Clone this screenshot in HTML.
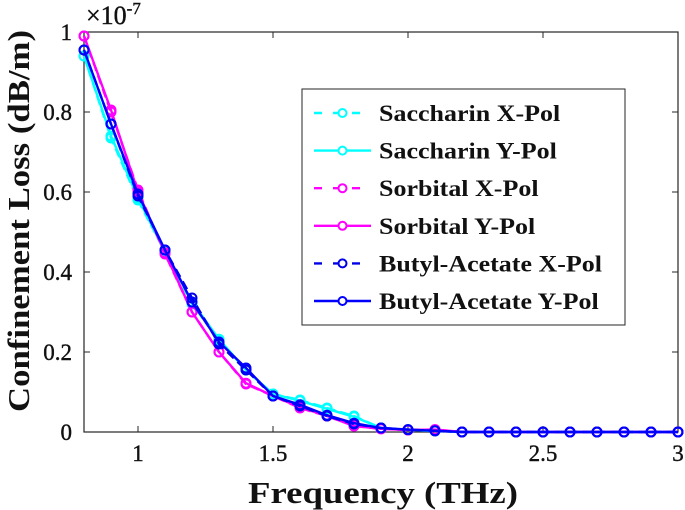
<!DOCTYPE html>
<html><head><meta charset="utf-8"><style>
body{margin:0;background:#fff}
svg{display:block;font-family:"Liberation Serif",serif}
</style></head><body>
<svg id="chart" width="685" height="510" viewBox="0 0 685 510">
<rect x="0" y="0" width="685" height="510" fill="#fff"/>
<g id="plot"></g>
</svg>
<script>
const freq=[0.8,0.9,1.0,1.1,1.2,1.3,1.4,1.5,1.6,1.7,1.8,1.9,2.0,2.1,2.2,2.3,2.4,2.5,2.6,2.7,2.8,2.9,3.0];
const sacX=[0.94,0.735,0.58,0.45,0.32,0.23,0.155,0.095,0.08,0.06,0.04,0.01,0.005,0.003,0,0,0,0,0,0,0,0,0];
const sacY=[0.94,0.74,0.585,0.45,0.325,0.232,0.155,0.095,0.078,0.058,0.038,0.01,0.005,0.003,0,0,0,0,0,0,0,0,0];
const sorX=[0.99,0.80,0.605,0.445,0.30,0.20,0.12,0.09,0.06,0.04,0.015,0.008,0.005,0.006,0,0,0,0,0,0,0,0,0];
const sorY=[0.99,0.805,0.60,0.448,0.30,0.20,0.122,0.09,0.062,0.04,0.015,0.008,0.005,0.006,0,0,0,0,0,0,0,0,0];
const butX=[0.955,0.77,0.59,0.455,0.335,0.22,0.155,0.09,0.065,0.04,0.02,0.01,0.006,0.003,0,0,0,0,0,0,0,0,0];
const butY=[0.955,0.77,0.595,0.455,0.325,0.225,0.16,0.09,0.068,0.042,0.022,0.01,0.006,0.003,0,0,0,0,0,0,0,0,0];
const xTicks=[1,1.5,2,2.5,3];
const xTickLabels=["1","1.5","2","2.5","3"];
const yTicks=[0,0.2,0.4,0.6,0.8,1];
const yTickLabels=["0","0.2","0.4","0.6","0.8","1"];
const seriesNames=["Saccharin X-Pol","Saccharin Y-Pol","Sorbital X-Pol","Sorbital Y-Pol","Butyl-Acetate X-Pol","Butyl-Acetate Y-Pol"];

const L=84,R=678,T=32,B=432;
const xs=v=>L+(v-0.8)/(3-0.8)*(R-L);
const ys=v=>B-v*(B-T);
const NS="http://www.w3.org/2000/svg";
const g=document.getElementById('plot');
function mk(tag,attrs,parent){const e=document.createElementNS(NS,tag);for(const k in attrs)e.setAttribute(k,attrs[k]);(parent||g).appendChild(e);return e;}
function stretch(t,f){const w=t.getComputedTextLength();t.setAttribute('textLength',w*f);t.setAttribute('lengthAdjust','spacingAndGlyphs');}

const box=mk('rect',{x:L,y:T,width:R-L,height:B-T,fill:'none',stroke:'#262626','stroke-width':1.2});


xTicks.forEach((t,i)=>{
  const x=xs(t);
  mk('line',{x1:x,y1:B,x2:x,y2:B-6,stroke:'#262626'});
  mk('line',{x1:x,y1:T,x2:x,y2:T+6,stroke:'#262626'});
  const tx=mk('text',{x:x,y:B+29,'font-size':23,'text-anchor':'middle',fill:'#111','stroke':'#111','stroke-width':0.4});
  tx.textContent=xTickLabels[i];
  
  
});
yTicks.forEach((t,i)=>{
  const y=ys(t);
  mk('line',{x1:L,y1:y,x2:L+6,y2:y,stroke:'#262626'});
  mk('line',{x1:R,y1:y,x2:R-6,y2:y,stroke:'#262626'});
  const tx=mk('text',{x:L-12,y:y+8,'font-size':23,'text-anchor':'end',fill:'#111','stroke':'#111','stroke-width':0.4});
  tx.textContent=yTickLabels[i];
  
  
});
const ex=mk('text',{x:86,y:24,'font-size':26,fill:'#111','stroke':'#111','stroke-width':0.4});
ex.innerHTML='×10<tspan font-size="17" dy="-10">-7</tspan>';


const xl=mk('text',{x:383,y:503,'font-size':31,'font-weight':'bold','text-anchor':'middle',fill:'#111'});
xl.textContent='Frequency (THz)';


stretch(xl,270/xl.getComputedTextLength());
const yl=mk('text',{x:0,y:0,'font-size':31,'font-weight':'bold','text-anchor':'middle',fill:'#111',transform:'translate(29,221) rotate(-90)'});
yl.textContent='Confinement Loss (dB/m)';


stretch(yl,382/yl.getComputedTextLength());

const data=[sacX,sacY,sorX,sorY,butX,butY];
const colors=['#00ffff','#00ffff','#ff00ff','#ff00ff','#0000e6','#0000ff'];
const dashed=[true,false,true,false,true,false];
data.forEach((vals,si)=>{
  const sg=mk('g',{});
  
  
  const pts=vals.map((v,i)=>xs(freq[i])+','+ys(v)).join(' ');
  const a={points:pts,fill:'none',stroke:colors[si],'stroke-width':2.4};
  if(dashed[si])a['stroke-dasharray']='9,5';
  mk('polyline',a,sg);
  vals.forEach((v,i)=>{
    const c=mk('circle',{cx:xs(freq[i]),cy:ys(v),r:4.5,fill:'none',stroke:colors[si],'stroke-width':2},sg);
    
    
  });
});

const lg=mk('g',{});


mk('rect',{x:302,y:89,width:323,height:236,fill:'#fff',stroke:'#262626','stroke-width':1},lg);
seriesNames.forEach((n,i)=>{
  const y=113+i*37.6;
  const e=mk('g',{},lg);
  
  
  const a={x1:314,y1:y,x2:371,y2:y,stroke:colors[i],'stroke-width':2.4};
  if(dashed[i])a['stroke-dasharray']='8,11';
  mk('line',a,e);
  mk('circle',{cx:342.5,cy:y,r:4,fill:'#fff',stroke:colors[i],'stroke-width':2},e);
  const t=mk('text',{x:379,y:y+8,'font-size':23,'font-weight':'bold',fill:'#111'},e);
  t.textContent=n;
  stretch(t,1.13);
});
</script>
</body></html>
